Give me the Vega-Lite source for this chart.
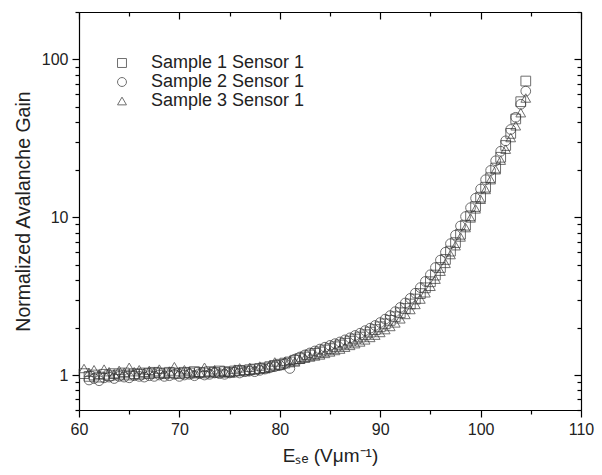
{
  "$schema": "https://vega.github.io/schema/vega-lite/v6.json",
  "width": 502,
  "height": 398,
  "autosize": {"type": "none"},
  "padding": {"left": 79, "top": 12, "right": 21, "bottom": 65},
  "config": {
    "view": {"stroke": null},
    "font": "Liberation Sans",
    "axis": {"grid": false, "domainColor": "#000", "tickColor": "#000", "labelColor": "#222", "titleColor": "#222", "labelFont": "Liberation Sans", "titleFont": "Liberation Sans", "domainWidth": 1.2, "tickWidth": 1.2, "labelFlush": false},
    "legend": {"labelFont": "Liberation Sans"}
  },
  "datasets": {
    "d": [
      {"s":"Sample 1 Sensor 1","x":60.5,"g":1.02},{"s":"Sample 1 Sensor 1","x":61,"g":0.98},{"s":"Sample 1 Sensor 1","x":61.5,"g":1.0},{"s":"Sample 1 Sensor 1","x":62,"g":0.97},{"s":"Sample 1 Sensor 1","x":62.5,"g":1.01},{"s":"Sample 1 Sensor 1","x":63,"g":0.99},{"s":"Sample 1 Sensor 1","x":63.5,"g":1.02},{"s":"Sample 1 Sensor 1","x":64,"g":1.0},{"s":"Sample 1 Sensor 1","x":64.5,"g":1.03},{"s":"Sample 1 Sensor 1","x":65,"g":1.0},{"s":"Sample 1 Sensor 1","x":65.5,"g":1.02},{"s":"Sample 1 Sensor 1","x":66,"g":1.01},{"s":"Sample 1 Sensor 1","x":66.5,"g":1.03},{"s":"Sample 1 Sensor 1","x":67,"g":1.02},{"s":"Sample 1 Sensor 1","x":67.5,"g":1.04},{"s":"Sample 1 Sensor 1","x":68,"g":1.03},{"s":"Sample 1 Sensor 1","x":68.5,"g":1.02},{"s":"Sample 1 Sensor 1","x":69,"g":1.04},{"s":"Sample 1 Sensor 1","x":69.5,"g":1.03},{"s":"Sample 1 Sensor 1","x":70,"g":1.02},{"s":"Sample 1 Sensor 1","x":70.5,"g":1.04},{"s":"Sample 1 Sensor 1","x":71,"g":1.03},{"s":"Sample 1 Sensor 1","x":71.5,"g":1.05},{"s":"Sample 1 Sensor 1","x":72,"g":1.04},{"s":"Sample 1 Sensor 1","x":72.5,"g":1.03},{"s":"Sample 1 Sensor 1","x":73,"g":1.05},{"s":"Sample 1 Sensor 1","x":73.5,"g":1.04},{"s":"Sample 1 Sensor 1","x":74,"g":1.06},{"s":"Sample 1 Sensor 1","x":74.5,"g":1.05},{"s":"Sample 1 Sensor 1","x":75,"g":1.04},{"s":"Sample 1 Sensor 1","x":75.5,"g":1.06},{"s":"Sample 1 Sensor 1","x":76,"g":1.07},{"s":"Sample 1 Sensor 1","x":76.5,"g":1.06},{"s":"Sample 1 Sensor 1","x":77,"g":1.08},{"s":"Sample 1 Sensor 1","x":77.5,"g":1.09},{"s":"Sample 1 Sensor 1","x":78,"g":1.1},{"s":"Sample 1 Sensor 1","x":78.5,"g":1.11},{"s":"Sample 1 Sensor 1","x":79,"g":1.13},{"s":"Sample 1 Sensor 1","x":79.5,"g":1.15},{"s":"Sample 1 Sensor 1","x":80,"g":1.17},{"s":"Sample 1 Sensor 1","x":80.5,"g":1.19},{"s":"Sample 1 Sensor 1","x":81,"g":1.21},{"s":"Sample 1 Sensor 1","x":81.5,"g":1.24},{"s":"Sample 1 Sensor 1","x":82,"g":1.27},{"s":"Sample 1 Sensor 1","x":82.5,"g":1.3},{"s":"Sample 1 Sensor 1","x":83,"g":1.34},{"s":"Sample 1 Sensor 1","x":83.5,"g":1.37},{"s":"Sample 1 Sensor 1","x":84,"g":1.4},{"s":"Sample 1 Sensor 1","x":84.5,"g":1.44},{"s":"Sample 1 Sensor 1","x":85,"g":1.47},{"s":"Sample 1 Sensor 1","x":85.5,"g":1.51},{"s":"Sample 1 Sensor 1","x":86,"g":1.55},{"s":"Sample 1 Sensor 1","x":86.5,"g":1.59},{"s":"Sample 1 Sensor 1","x":87,"g":1.64},{"s":"Sample 1 Sensor 1","x":87.5,"g":1.69},{"s":"Sample 1 Sensor 1","x":88,"g":1.74},{"s":"Sample 1 Sensor 1","x":88.5,"g":1.8},{"s":"Sample 1 Sensor 1","x":89,"g":1.87},{"s":"Sample 1 Sensor 1","x":89.5,"g":1.94},{"s":"Sample 1 Sensor 1","x":90,"g":2.02},{"s":"Sample 1 Sensor 1","x":90.5,"g":2.11},{"s":"Sample 1 Sensor 1","x":91,"g":2.22},{"s":"Sample 1 Sensor 1","x":91.5,"g":2.34},{"s":"Sample 1 Sensor 1","x":92,"g":2.48},{"s":"Sample 1 Sensor 1","x":92.5,"g":2.64},{"s":"Sample 1 Sensor 1","x":93,"g":2.82},{"s":"Sample 1 Sensor 1","x":93.5,"g":3.03},{"s":"Sample 1 Sensor 1","x":94,"g":3.28},{"s":"Sample 1 Sensor 1","x":94.5,"g":3.57},{"s":"Sample 1 Sensor 1","x":95,"g":3.9},{"s":"Sample 1 Sensor 1","x":95.5,"g":4.3},{"s":"Sample 1 Sensor 1","x":96,"g":4.8},{"s":"Sample 1 Sensor 1","x":96.5,"g":5.4},{"s":"Sample 1 Sensor 1","x":97,"g":6.1},{"s":"Sample 1 Sensor 1","x":97.5,"g":6.9},{"s":"Sample 1 Sensor 1","x":98,"g":7.8},{"s":"Sample 1 Sensor 1","x":98.5,"g":8.9},{"s":"Sample 1 Sensor 1","x":99,"g":10.2},{"s":"Sample 1 Sensor 1","x":99.5,"g":11.7},{"s":"Sample 1 Sensor 1","x":100,"g":13.4},{"s":"Sample 1 Sensor 1","x":100.5,"g":15.5},{"s":"Sample 1 Sensor 1","x":101,"g":17.8},{"s":"Sample 1 Sensor 1","x":101.5,"g":20.5},{"s":"Sample 1 Sensor 1","x":102,"g":24},{"s":"Sample 1 Sensor 1","x":102.5,"g":28.5},{"s":"Sample 1 Sensor 1","x":103,"g":34},{"s":"Sample 1 Sensor 1","x":103.5,"g":42},{"s":"Sample 1 Sensor 1","x":104,"g":54},{"s":"Sample 1 Sensor 1","x":104.5,"g":73},
      {"s":"Sample 2 Sensor 1","x":61,"g":0.93},{"s":"Sample 2 Sensor 1","x":61.5,"g":0.95},{"s":"Sample 2 Sensor 1","x":62,"g":0.92},{"s":"Sample 2 Sensor 1","x":62.5,"g":0.96},{"s":"Sample 2 Sensor 1","x":63,"g":0.97},{"s":"Sample 2 Sensor 1","x":63.5,"g":0.95},{"s":"Sample 2 Sensor 1","x":64,"g":0.98},{"s":"Sample 2 Sensor 1","x":64.5,"g":0.97},{"s":"Sample 2 Sensor 1","x":65,"g":0.96},{"s":"Sample 2 Sensor 1","x":65.5,"g":0.99},{"s":"Sample 2 Sensor 1","x":66,"g":0.98},{"s":"Sample 2 Sensor 1","x":66.5,"g":0.97},{"s":"Sample 2 Sensor 1","x":67,"g":0.99},{"s":"Sample 2 Sensor 1","x":67.5,"g":0.98},{"s":"Sample 2 Sensor 1","x":68,"g":1.0},{"s":"Sample 2 Sensor 1","x":68.5,"g":0.98},{"s":"Sample 2 Sensor 1","x":69,"g":0.99},{"s":"Sample 2 Sensor 1","x":69.5,"g":1.01},{"s":"Sample 2 Sensor 1","x":70,"g":0.98},{"s":"Sample 2 Sensor 1","x":70.5,"g":1.0},{"s":"Sample 2 Sensor 1","x":71,"g":1.01},{"s":"Sample 2 Sensor 1","x":71.5,"g":0.99},{"s":"Sample 2 Sensor 1","x":72,"g":1.02},{"s":"Sample 2 Sensor 1","x":72.5,"g":1.0},{"s":"Sample 2 Sensor 1","x":73,"g":1.01},{"s":"Sample 2 Sensor 1","x":73.5,"g":1.03},{"s":"Sample 2 Sensor 1","x":74,"g":1.02},{"s":"Sample 2 Sensor 1","x":74.5,"g":1.01},{"s":"Sample 2 Sensor 1","x":75,"g":1.03},{"s":"Sample 2 Sensor 1","x":75.5,"g":1.04},{"s":"Sample 2 Sensor 1","x":76,"g":1.03},{"s":"Sample 2 Sensor 1","x":76.5,"g":1.05},{"s":"Sample 2 Sensor 1","x":77,"g":1.06},{"s":"Sample 2 Sensor 1","x":77.5,"g":1.05},{"s":"Sample 2 Sensor 1","x":78,"g":1.07},{"s":"Sample 2 Sensor 1","x":78.5,"g":1.09},{"s":"Sample 2 Sensor 1","x":79,"g":1.11},{"s":"Sample 2 Sensor 1","x":79.5,"g":1.13},{"s":"Sample 2 Sensor 1","x":80,"g":1.15},{"s":"Sample 2 Sensor 1","x":80.5,"g":1.18},{"s":"Sample 2 Sensor 1","x":81,"g":1.1},{"s":"Sample 2 Sensor 1","x":81.5,"g":1.26},{"s":"Sample 2 Sensor 1","x":82,"g":1.3},{"s":"Sample 2 Sensor 1","x":82.5,"g":1.34},{"s":"Sample 2 Sensor 1","x":83,"g":1.38},{"s":"Sample 2 Sensor 1","x":83.5,"g":1.42},{"s":"Sample 2 Sensor 1","x":84,"g":1.46},{"s":"Sample 2 Sensor 1","x":84.5,"g":1.5},{"s":"Sample 2 Sensor 1","x":85,"g":1.54},{"s":"Sample 2 Sensor 1","x":85.5,"g":1.58},{"s":"Sample 2 Sensor 1","x":86,"g":1.62},{"s":"Sample 2 Sensor 1","x":86.5,"g":1.67},{"s":"Sample 2 Sensor 1","x":87,"g":1.72},{"s":"Sample 2 Sensor 1","x":87.5,"g":1.78},{"s":"Sample 2 Sensor 1","x":88,"g":1.84},{"s":"Sample 2 Sensor 1","x":88.5,"g":1.91},{"s":"Sample 2 Sensor 1","x":89,"g":1.98},{"s":"Sample 2 Sensor 1","x":89.5,"g":2.06},{"s":"Sample 2 Sensor 1","x":90,"g":2.15},{"s":"Sample 2 Sensor 1","x":90.5,"g":2.26},{"s":"Sample 2 Sensor 1","x":91,"g":2.38},{"s":"Sample 2 Sensor 1","x":91.5,"g":2.52},{"s":"Sample 2 Sensor 1","x":92,"g":2.68},{"s":"Sample 2 Sensor 1","x":92.5,"g":2.86},{"s":"Sample 2 Sensor 1","x":93,"g":3.06},{"s":"Sample 2 Sensor 1","x":93.5,"g":3.3},{"s":"Sample 2 Sensor 1","x":94,"g":3.58},{"s":"Sample 2 Sensor 1","x":94.5,"g":3.92},{"s":"Sample 2 Sensor 1","x":95,"g":4.32},{"s":"Sample 2 Sensor 1","x":95.5,"g":4.8},{"s":"Sample 2 Sensor 1","x":96,"g":5.35},{"s":"Sample 2 Sensor 1","x":96.5,"g":6.0},{"s":"Sample 2 Sensor 1","x":97,"g":6.8},{"s":"Sample 2 Sensor 1","x":97.5,"g":7.7},{"s":"Sample 2 Sensor 1","x":98,"g":8.8},{"s":"Sample 2 Sensor 1","x":98.5,"g":10.1},{"s":"Sample 2 Sensor 1","x":99,"g":11.5},{"s":"Sample 2 Sensor 1","x":99.5,"g":13.2},{"s":"Sample 2 Sensor 1","x":100,"g":15.1},{"s":"Sample 2 Sensor 1","x":100.5,"g":17.3},{"s":"Sample 2 Sensor 1","x":101,"g":19.8},{"s":"Sample 2 Sensor 1","x":101.5,"g":22.8},{"s":"Sample 2 Sensor 1","x":102,"g":26.2},{"s":"Sample 2 Sensor 1","x":102.5,"g":30.5},{"s":"Sample 2 Sensor 1","x":103,"g":36},{"s":"Sample 2 Sensor 1","x":103.5,"g":43},{"s":"Sample 2 Sensor 1","x":104,"g":52},{"s":"Sample 2 Sensor 1","x":104.5,"g":63},
      {"s":"Sample 3 Sensor 1","x":60.5,"g":1.1},{"s":"Sample 3 Sensor 1","x":61,"g":1.04},{"s":"Sample 3 Sensor 1","x":61.5,"g":1.08},{"s":"Sample 3 Sensor 1","x":62,"g":1.01},{"s":"Sample 3 Sensor 1","x":62.5,"g":1.09},{"s":"Sample 3 Sensor 1","x":63,"g":1.05},{"s":"Sample 3 Sensor 1","x":63.5,"g":1.02},{"s":"Sample 3 Sensor 1","x":64,"g":1.07},{"s":"Sample 3 Sensor 1","x":64.5,"g":1.04},{"s":"Sample 3 Sensor 1","x":65,"g":1.12},{"s":"Sample 3 Sensor 1","x":65.5,"g":1.05},{"s":"Sample 3 Sensor 1","x":66,"g":1.08},{"s":"Sample 3 Sensor 1","x":66.5,"g":1.04},{"s":"Sample 3 Sensor 1","x":67,"g":1.07},{"s":"Sample 3 Sensor 1","x":67.5,"g":1.05},{"s":"Sample 3 Sensor 1","x":68,"g":1.09},{"s":"Sample 3 Sensor 1","x":68.5,"g":1.03},{"s":"Sample 3 Sensor 1","x":69,"g":1.06},{"s":"Sample 3 Sensor 1","x":69.5,"g":1.13},{"s":"Sample 3 Sensor 1","x":70,"g":1.05},{"s":"Sample 3 Sensor 1","x":70.5,"g":1.08},{"s":"Sample 3 Sensor 1","x":71,"g":1.06},{"s":"Sample 3 Sensor 1","x":71.5,"g":1.02},{"s":"Sample 3 Sensor 1","x":72,"g":1.04},{"s":"Sample 3 Sensor 1","x":72.5,"g":1.12},{"s":"Sample 3 Sensor 1","x":73,"g":1.05},{"s":"Sample 3 Sensor 1","x":73.5,"g":1.08},{"s":"Sample 3 Sensor 1","x":74,"g":1.03},{"s":"Sample 3 Sensor 1","x":74.5,"g":1.06},{"s":"Sample 3 Sensor 1","x":75,"g":1.04},{"s":"Sample 3 Sensor 1","x":75.5,"g":1.09},{"s":"Sample 3 Sensor 1","x":76,"g":1.11},{"s":"Sample 3 Sensor 1","x":76.5,"g":1.07},{"s":"Sample 3 Sensor 1","x":77,"g":1.12},{"s":"Sample 3 Sensor 1","x":77.5,"g":1.08},{"s":"Sample 3 Sensor 1","x":78,"g":1.14},{"s":"Sample 3 Sensor 1","x":78.5,"g":1.1},{"s":"Sample 3 Sensor 1","x":79,"g":1.16},{"s":"Sample 3 Sensor 1","x":79.5,"g":1.21},{"s":"Sample 3 Sensor 1","x":80,"g":1.15},{"s":"Sample 3 Sensor 1","x":80.5,"g":1.22},{"s":"Sample 3 Sensor 1","x":81,"g":1.24},{"s":"Sample 3 Sensor 1","x":81.5,"g":1.21},{"s":"Sample 3 Sensor 1","x":82,"g":1.26},{"s":"Sample 3 Sensor 1","x":82.5,"g":1.28},{"s":"Sample 3 Sensor 1","x":83,"g":1.3},{"s":"Sample 3 Sensor 1","x":83.5,"g":1.32},{"s":"Sample 3 Sensor 1","x":84,"g":1.34},{"s":"Sample 3 Sensor 1","x":84.5,"g":1.37},{"s":"Sample 3 Sensor 1","x":85,"g":1.4},{"s":"Sample 3 Sensor 1","x":85.5,"g":1.43},{"s":"Sample 3 Sensor 1","x":86,"g":1.46},{"s":"Sample 3 Sensor 1","x":86.5,"g":1.5},{"s":"Sample 3 Sensor 1","x":87,"g":1.54},{"s":"Sample 3 Sensor 1","x":87.5,"g":1.58},{"s":"Sample 3 Sensor 1","x":88,"g":1.62},{"s":"Sample 3 Sensor 1","x":88.5,"g":1.67},{"s":"Sample 3 Sensor 1","x":89,"g":1.73},{"s":"Sample 3 Sensor 1","x":89.5,"g":1.79},{"s":"Sample 3 Sensor 1","x":90,"g":1.86},{"s":"Sample 3 Sensor 1","x":90.5,"g":1.94},{"s":"Sample 3 Sensor 1","x":91,"g":2.03},{"s":"Sample 3 Sensor 1","x":91.5,"g":2.14},{"s":"Sample 3 Sensor 1","x":92,"g":2.27},{"s":"Sample 3 Sensor 1","x":92.5,"g":2.42},{"s":"Sample 3 Sensor 1","x":93,"g":2.6},{"s":"Sample 3 Sensor 1","x":93.5,"g":2.8},{"s":"Sample 3 Sensor 1","x":94,"g":3.03},{"s":"Sample 3 Sensor 1","x":94.5,"g":3.32},{"s":"Sample 3 Sensor 1","x":95,"g":3.65},{"s":"Sample 3 Sensor 1","x":95.5,"g":4.05},{"s":"Sample 3 Sensor 1","x":96,"g":4.55},{"s":"Sample 3 Sensor 1","x":96.5,"g":5.1},{"s":"Sample 3 Sensor 1","x":97,"g":5.8},{"s":"Sample 3 Sensor 1","x":97.5,"g":6.6},{"s":"Sample 3 Sensor 1","x":98,"g":7.5},{"s":"Sample 3 Sensor 1","x":98.5,"g":8.6},{"s":"Sample 3 Sensor 1","x":99,"g":9.9},{"s":"Sample 3 Sensor 1","x":99.5,"g":11.3},{"s":"Sample 3 Sensor 1","x":100,"g":13},{"s":"Sample 3 Sensor 1","x":100.5,"g":15},{"s":"Sample 3 Sensor 1","x":101,"g":17.3},{"s":"Sample 3 Sensor 1","x":101.5,"g":20},{"s":"Sample 3 Sensor 1","x":102,"g":23},{"s":"Sample 3 Sensor 1","x":102.5,"g":27},{"s":"Sample 3 Sensor 1","x":103,"g":32},{"s":"Sample 3 Sensor 1","x":103.5,"g":38},{"s":"Sample 3 Sensor 1","x":104,"g":46},{"s":"Sample 3 Sensor 1","x":104.5,"g":57}
    ]
  },
  "data": {"name": "d"},
  "resolve": {"axis": {"x": "independent", "y": "independent"}},
  "layer": [
    {
      "mark": {"type": "point", "opacity": 0},
      "encoding": {
        "x": {"field": "x", "type": "quantitative", "scale": {"domain": [60, 110], "nice": false, "zero": false},
          "axis": {"orient": "top", "values": [60, 70, 80, 90, 100, 110], "labels": false, "title": null, "tickSize": -7, "domain": true}},
        "y": {"field": "g", "type": "quantitative", "scale": {"type": "log", "domain": [0.6, 200], "nice": false},
          "axis": {"orient": "right", "values": [1, 10, 100], "labels": false, "title": null, "tickSize": -7, "domain": true}}
      }
    },
    {
      "mark": {"type": "point", "opacity": 0},
      "encoding": {
        "x": {"field": "x", "type": "quantitative",
          "axis": {"orient": "top", "values": [65, 75, 85, 95, 105], "labels": false, "title": null, "tickSize": -4, "domain": false}},
        "y": {"field": "g", "type": "quantitative",
          "axis": {"orient": "right", "values": [0.6, 0.7, 0.8, 0.9, 2, 3, 4, 5, 6, 7, 8, 9, 20, 30, 40, 50, 60, 70, 80, 90, 200], "labels": false, "title": null, "tickSize": -4, "domain": false}}
      }
    },
    {
      "mark": {"type": "point", "opacity": 0},
      "encoding": {
        "x": {"field": "x", "type": "quantitative",
          "axis": {"orient": "bottom", "values": [65, 75, 85, 95, 105], "labels": false, "title": null, "tickSize": 4, "domain": false}},
        "y": {"field": "g", "type": "quantitative",
          "axis": {"orient": "left", "values": [0.6, 0.7, 0.8, 0.9, 2, 3, 4, 5, 6, 7, 8, 9, 20, 30, 40, 50, 60, 70, 80, 90, 200], "labels": false, "title": null, "tickSize": 4, "domain": false}}
      }
    },
    {
      "mark": {"type": "point", "filled": false, "stroke": "#333", "strokeWidth": 1, "size": 95},
      "encoding": {
        "x": {"field": "x", "type": "quantitative",
          "axis": {"orient": "bottom", "values": [60, 70, 80, 90, 100, 110], "tickSize": 7, "labelFontSize": 16, "labelPadding": 4, "title": "Eₛₑ (Vμm⁻¹)", "titleFontSize": 19, "titleFontWeight": "normal", "titlePadding": 9}},
        "y": {"field": "g", "type": "quantitative",
          "axis": {"orient": "left", "values": [1, 10, 100], "format": "~g", "tickSize": 7, "labelFontSize": 16, "labelPadding": 4, "title": "Normalized Avalanche Gain", "titleFontSize": 19.5, "titleFontWeight": "normal", "titlePadding": 8}},
        "shape": {"field": "s", "type": "nominal",
          "scale": {"domain": ["Sample 1 Sensor 1", "Sample 2 Sensor 1", "Sample 3 Sensor 1"], "range": ["square", "circle", "triangle-up"]},
          "legend": {"title": null, "orient": "none", "legendX": 34, "legendY": 42, "labelFontSize": 18, "labelColor": "#222", "symbolStrokeColor": "#333", "symbolFillColor": "transparent", "symbolStrokeWidth": 1, "symbolSize": 80, "labelOffset": 20, "rowPadding": 1}}
      }
    }
  ]
}
